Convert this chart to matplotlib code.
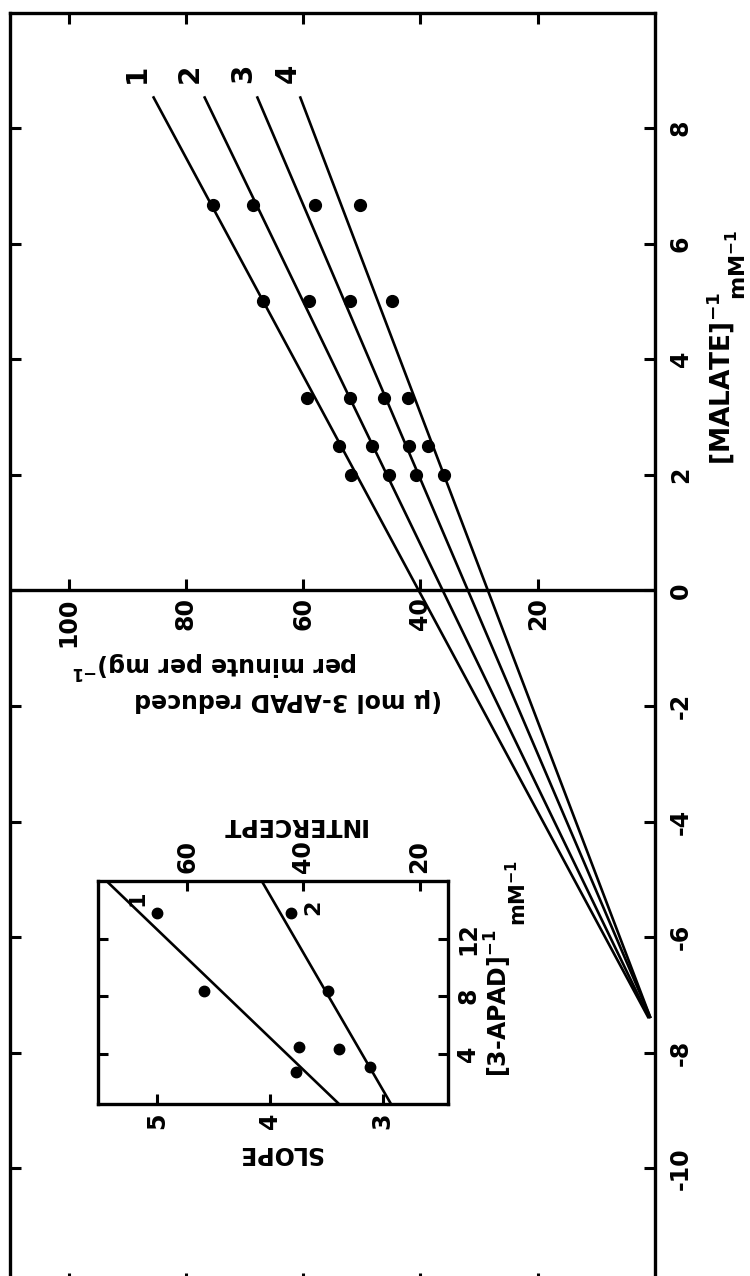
import matplotlib
matplotlib.use("Agg")
import matplotlib.pyplot as plt
import numpy as np

plt.rcParams["font.family"] = ["DejaVu Sans"]
plt.rcParams["font.weight"] = "bold"
plt.rcParams["mathtext.default"] = "bf"
plt.rcParams["axes.unicode_minus"] = False

# Lineweaver-Burk plot, reciprocal malate vs reciprocal rate (figure is turned on its side)
malate_inv = [2.0, 2.5, 3.33, 5.0, 6.67]
rate_inv_1 = [51.8, 53.9, 59.3, 66.9, 75.4]
rate_inv_2 = [45.3, 48.2, 52.0, 59.0, 68.5]
rate_inv_3 = [40.8, 42.0, 46.2, 52.0, 57.9]
rate_inv_4 = [36.0, 38.7, 42.1, 44.8, 50.3]
line_names = ["1", "2", "3", "4"]

# fitted lines: intercept at 1/[malate] = 0 and slope
fit_intercepts = [40.3, 36.2, 31.9, 28.5]
fit_slopes = [5.30, 4.76, 4.21, 3.75]
fit_range = (-7.4, 8.55)

rate_ticks = [20, 40, 60, 80, 100]
malate_ticks = [-10, -8, -6, -4, -2, 0, 2, 4, 6, 8]

# replot: slope and intercept against 1/[3-APAD]
apad_slope = [2.73, 4.47, 8.37, 13.8]
slope_vals = [3.77, 3.74, 4.58, 5.0]
apad_icept = [3.08, 4.35, 8.37, 13.75]
icept_vals = [28.5, 33.8, 35.8, 42.2]
slope_fit = (3.32, 0.133)
icept_fit = (24.2, 1.436)

fig = plt.figure(figsize=(7.5, 12.76), dpi=100)

ax = fig.add_axes([0.01333, -0.00627, 0.86, 0.99647])
ax.set_xlim(110, 0)
ax.set_ylim(-12, 10)
for s in ax.spines.values():
    s.set_linewidth(2.4)

xs = np.array(fit_range)
for a, b in zip(fit_intercepts, fit_slopes):
    ax.plot(a + b * xs, xs, color="black", lw=1.9, solid_capstyle="butt")

for series in (rate_inv_1, rate_inv_2, rate_inv_3, rate_inv_4):
    ax.plot(series, malate_inv, "o", color="black", ms=8.5, mec="black")

# line numbers above the upper ends
for name, a, b in zip(line_names, fit_intercepts, fit_slopes):
    ax.text(a + b * 8.95 + 0.6, 8.95, name, rotation=90, ha="center", va="center",
            fontsize=20, fontweight="bold")

# vertical axis through 1/[malate] = 0
ax.axhline(0, color="black", lw=2.4)
ax.plot(rate_ticks, [0] * len(rate_ticks), linestyle="none", marker=2,
        ms=8, mew=2.2, color="black")
for v in rate_ticks:
    ax.annotate(str(v), (v, 0), xytext=(0, -5), textcoords="offset points",
                rotation=90, ha="center", va="top", fontsize=17, fontweight="bold")

ax.set_xticks(rate_ticks)
ax.set_yticks(malate_ticks)
ax.tick_params(axis="x", which="both", direction="in", top=True, bottom=True,
               labelbottom=False, labeltop=False, length=8, width=2.2)
ax.tick_params(axis="y", which="both", direction="in", left=True, right=True,
               labelleft=False, labelright=True, length=8, width=2.2,
               labelrotation=90, labelsize=17, pad=10)
plt.setp(ax.get_yticklabels(), va="center", fontweight="bold")

# axis titles; the unit sits on a lower baseline
ytr = ax.get_yaxis_transform()
ax.text(1.118, 2.17, r"$[MALATE]^{-1}$", transform=ytr, rotation=90,
        rotation_mode="anchor", ha="left", va="baseline", fontsize=19)
ax.text(1.141, 5.03, r"$mM^{-1}$", transform=ytr, rotation=90,
        rotation_mode="anchor", ha="left", va="baseline", fontsize=16)

ax.text(62.5, -1.89, "(μ mol 3-APAD reduced", rotation=180, ha="center", va="center",
        fontsize=17, fontweight="bold")
ax.text(75.1, -1.27, r"per minute per mg)$^{-1}$", rotation=180, ha="center",
        va="center", fontsize=17, fontweight="bold")

# inset
axi = fig.add_axes([0.1311, 0.1348, 0.4663, 0.1748])
axi.set_xlim(5.52, 2.42)
axi.set_ylim(0.5, 16)
for s in axi.spines.values():
    s.set_linewidth(2.4)
axt = axi.twiny()
axt.set_xlim(75.3, 15.1)

ax_range = np.array([0.5, 16])
axi.plot(slope_fit[0] + slope_fit[1] * ax_range, ax_range, color="black", lw=1.9)
axt.plot(icept_fit[0] + icept_fit[1] * ax_range, ax_range, color="black", lw=1.9)
axi.plot(slope_vals, apad_slope, "o", color="black", ms=7.5)
axt.plot(icept_vals, apad_icept, "o", color="black", ms=7.5)
axi.text(5.17, 14.8, "1", rotation=90, ha="center", va="center", fontsize=16,
         fontweight="bold")
axt.text(38.3, 14.2, "2", rotation=90, ha="center", va="center", fontsize=16,
         fontweight="bold")

axi.set_xticks([3, 4, 5])
axi.set_yticks([4, 8, 12])
axt.set_xticks([20, 40, 60])
axi.tick_params(axis="x", direction="in", top=False, bottom=True, length=7, width=2.2,
                labelrotation=90, labelsize=17, pad=6)
axi.tick_params(axis="y", direction="in", left=True, right=True, labelleft=False,
                labelright=True, length=7, width=2.2, labelrotation=90, labelsize=17, pad=6)
axt.tick_params(axis="x", direction="in", top=True, bottom=False, length=7, width=2.2,
                labelrotation=90, labelsize=17, pad=6)
plt.setp(axi.get_yticklabels(), va="center", fontweight="bold")
plt.setp(axi.get_xticklabels(), fontweight="bold")
plt.setp(axt.get_xticklabels(), fontweight="bold")

axi.text(0.52, -0.22, "SLOPE", transform=axi.transAxes, rotation=180, ha="center",
         va="center", fontsize=17, fontweight="bold")
axi.text(0.557, 1.251, "INTERCEPT", transform=axi.transAxes, rotation=180, ha="center",
         va="center", fontsize=17, fontweight="bold")
axi.text(1.1716, 0.121, r"$[3\text{-}APAD]^{-1}$", transform=axi.transAxes,
         rotation=90, rotation_mode="anchor", ha="left", va="baseline", fontsize=17)
axi.text(1.223, 0.80, r"$mM^{-1}$", transform=axi.transAxes,
         rotation=90, rotation_mode="anchor", ha="left", va="baseline", fontsize=15)

fig.savefig("out.png", dpi=100)
